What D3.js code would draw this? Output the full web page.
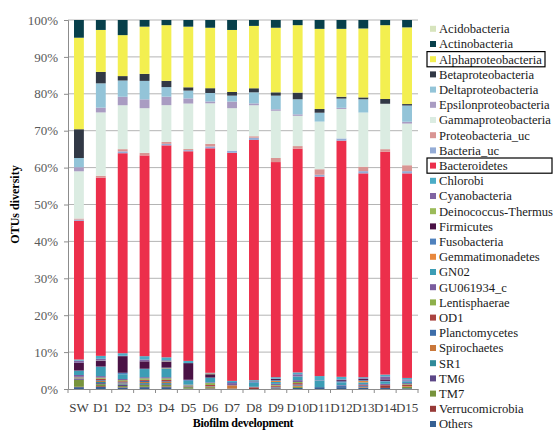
<!DOCTYPE html>
<html>
<head>
<meta charset="utf-8">
<script src="https://cdn.jsdelivr.net/npm/d3@7"></script>
<style>
    body { margin: 0; background: #fff; }
    text { font-family: "Liberation Serif", serif; }
</style>
</head>
<body>
<svg id="chart" width="554" height="430"></svg>
<script>
// samples along the x axis
const samples = ["SW", "D1", "D2", "D3", "D4", "D5", "D6", "D7", "D8", "D9", "D10", "D11", "D12", "D13", "D14", "D15"];

// legend order (top of legend = top of stack)
const taxa = ["Acidobacteria", "Actinobacteria", "Alphaproteobacteria", "Betaproteobacteria", "Deltaproteobacteria",
    "Epsilonproteobacteria", "Gammaproteobacteria", "Proteobacteria_uc", "Bacteria_uc", "Bacteroidetes", "Chlorobi",
    "Cyanobacteria", "Deinococcus-Thermus", "Firmicutes", "Fusobacteria", "Gemmatimonadetes", "GN02", "GU061934_c",
    "Lentisphaerae", "OD1", "Planctomycetes", "Spirochaetes", "SR1", "TM6", "TM7", "Verrucomicrobia", "Others"];

const taxaColors = ["#d7e4bd", "#073f4a", "#f3ef50", "#313845", "#93c4d8", "#a99cc2", "#dbece2", "#d99593", "#94acd6",
    "#ec2f4b", "#4bacc6", "#8064a2", "#9bbb59", "#4a1245", "#4f81bd", "#e8883d", "#3c9db5", "#7a5c9e", "#8eb04a",
    "#aa4340", "#3d6eaa", "#c9773a", "#2f8a9a", "#5c4787", "#77933c", "#973a37", "#366093"];

// relative abundance (%) per sample, SW..D15
const acidobacteria = [0, 0, 0, 0, 0, 0, 0, 0, 0, 0, 0, 0, 0, 0, 0, 0];
const actinobacteria = [4.8, 2.7, 4.1, 1.8, 1.4, 1.8, 2.1, 2.7, 1.6, 2.1, 1.4, 2.4, 2.4, 2.3, 1.4, 2.0];
const alphaproteobacteria = [24.8, 11.4, 11.1, 12.8, 15.1, 16.4, 16.4, 16.8, 16.9, 17.5, 18.3, 21.7, 18.4, 18.7, 20.0, 20.8];
const betaproteobacteria = [7.8, 3.1, 1.2, 1.9, 1.7, 0.9, 1.3, 1.0, 1.1, 0.9, 1.8, 1.0, 0.5, 0.5, 1.3, 0.4];
const deltaproteobacteria = [2.5, 6.6, 4.4, 5.0, 2.6, 2.1, 2.3, 1.6, 3.0, 3.7, 4.1, 2.4, 2.5, 3.6, 0, 4.4];
const epsilonproteobacteria = [1.1, 1.3, 2.3, 2.4, 2.3, 1.4, 0.5, 1.8, 0.5, 0.4, 0.4, 0, 0.3, 0, 0, 0.5];
const gammaproteobacteria = [12.8, 17.2, 11.9, 12.1, 10.0, 12.3, 11.0, 11.5, 8.4, 12.8, 8.2, 12.9, 8.0, 14.7, 12.3, 11.3];
const proteobacteriaUc = [0.3, 0.5, 0.6, 0.7, 0.5, 0.3, 0.7, 0, 0.4, 1.1, 0.7, 1.5, 0, 1.2, 0.7, 1.6];
const bacteriaUc = [0.3, 0, 0.5, 0, 0.4, 0.3, 0.5, 0.6, 0.6, 0, 0, 0.5, 0.6, 0.6, 0, 0.6];
const bacteroidetes = [37.6, 48.4, 54.2, 54.4, 57.5, 56.7, 60.9, 61.8, 65.1, 58.3, 60.7, 54.0, 64.0, 55.3, 60.4, 55.5];
const chlorobi = [0.3, 0.8, 0.7, 0.9, 0.8, 0.6, 0.1, 0.3, 0.3, 0.4, 0.5, 1.1, 0.7, 0.3, 0.5, 0.4];
const cyanobacteria = [0.6, 0.5, 0.1, 0.5, 0.3, 0, 0.1, 0, 0, 0.1, 0.6, 0.1, 0.2, 0.2, 0.8, 0.3];
const deinococcus = [0, 0.1, 0, 0, 0.1, 0, 0.2, 0, 0, 0, 0, 0, 0, 0, 0, 0];
const firmicutes = [2.1, 1.5, 4.5, 2.0, 1.6, 4.5, 0.9, 0, 0.1, 0.3, 0, 0, 0.3, 0.3, 0.4, 0];
const fusobacteria = [0.1, 0.1, 0.4, 0.1, 0.1, 0.3, 0, 0.3, 0.3, 0.2, 0, 0, 0.3, 0.2, 0.2, 0.3];
const gemmatimonadetes = [0, 0, 0, 0, 0.1, 0, 0, 0, 0, 0.3, 0, 0, 0, 0.4, 0, 0];
const gn02 = [1.1, 2.5, 1.3, 2.2, 2.4, 1.0, 1.3, 0, 1.1, 0.5, 1.0, 1.8, 0.8, 0.5, 0.6, 0.4];
const gu061934 = [0.5, 0.4, 0.3, 0.3, 0.3, 0.2, 0.2, 0.6, 0, 0.3, 0.5, 0, 0.2, 0.2, 0.3, 0.3];
const lentisphaerae = [0.1, 0.3, 0.3, 0.4, 0.4, 0.2, 0.5, 0, 0, 0.2, 0.3, 0, 0, 0, 0, 0.2];
const od1 = [0.1, 0.4, 0.3, 0.3, 0.4, 0.1, 0.3, 0, 0.2, 0.3, 0.4, 0, 0, 0.2, 0.2, 0.3];
const planctomycetes = [0.1, 0.2, 0.3, 0.3, 0.2, 0.1, 0.1, 0, 0, 0.2, 0.3, 0, 0.3, 0.3, 0, 0];
const spirochaetes = [0.1, 0.3, 0.2, 0.3, 0.3, 0, 0.2, 0.9, 0, 0.2, 0.3, 0, 0, 0.2, 0, 0.2];
const sr1 = [0.1, 0.3, 0.2, 0.3, 0.3, 0, 0, 0, 0, 0, 0, 0, 0, 0, 0, 0];
const tm6 = [0.3, 0.3, 0.3, 0.2, 0.2, 0.1, 0, 0, 0.1, 0, 0, 0, 0, 0, 0, 0];
const tm7 = [1.9, 0.5, 0.3, 0.5, 0.4, 0.4, 0.3, 0, 0, 0, 0.3, 0, 0, 0, 0, 0.4];
const verrucomicrobia = [0.1, 0.2, 0.1, 0.1, 0.2, 0, 0.1, 0, 0.3, 0, 0, 0, 0, 0, 0.6, 0];
const others = [0.5, 0.6, 0.4, 0.5, 0.5, 0.1, 0.1, 0.1, 0, 0.2, 0.3, 0.5, 0.5, 0.4, 0.3, 0.2];

// same order as taxa
const seriesValues = [acidobacteria, actinobacteria, alphaproteobacteria, betaproteobacteria, deltaproteobacteria,
    epsilonproteobacteria, gammaproteobacteria, proteobacteriaUc, bacteriaUc, bacteroidetes, chlorobi, cyanobacteria,
    deinococcus, firmicutes, fusobacteria, gemmatimonadetes, gn02, gu061934, lentisphaerae, od1, planctomycetes,
    spirochaetes, sr1, tm6, tm7, verrucomicrobia, others];

const yTicks = [0, 0.1, 0.2, 0.3, 0.4, 0.5, 0.6, 0.7, 0.8, 0.9, 1.0];

// legend entries that carry a frame in the original
const framed = ["Alphaproteobacteria", "Bacteroidetes"];
const frameWidths = [118, 125];

// build one row per sample for d3.stack
let table = samples.map((s, i) => {
    let row = { sample: s };
    taxa.forEach((t, j) => { row[t] = seriesValues[j][i]; });
    return row;
});

let svg = d3.select("#chart");

let plotLeft = 68, plotRight = 418, plotTop = 20, plotBottom = 389;

let x = d3.scaleBand()
    .domain(samples)
    .range([plotLeft, plotRight])
    .paddingInner(0.55)
    .paddingOuter(0.275);

let y = d3.scaleLinear()
    .domain([0, 1])
    .range([plotBottom, plotTop]);

let color = d3.scaleOrdinal().domain(taxa).range(taxaColors);

// bottom of the stack = last legend entry
let stackKeys = taxa.slice().reverse();
let stacked = d3.stack()
    .keys(stackKeys)
    .offset(d3.stackOffsetExpand)(table);

// gridlines
svg.append("g")
    .selectAll("line")
    .data(yTicks.slice(1))
    .join("line")
    .attr("x1", plotLeft)
    .attr("x2", plotRight)
    .attr("y1", d => y(d))
    .attr("y2", d => y(d))
    .attr("stroke", "#b4b4b4")
    .attr("stroke-width", 1);

// bars
svg.append("g")
    .selectAll("g")
    .data(stacked)
    .join("g")
    .attr("fill", d => color(d.key))
    .selectAll("rect")
    .data(d => d)
    .join("rect")
    .attr("x", d => x(d.data.sample))
    .attr("width", x.bandwidth())
    .attr("y", d => y(d[1]))
    .attr("height", d => Math.max(0, y(d[0]) - y(d[1])));

// y axis
let yAxis = svg.append("g")
    .attr("transform", `translate(${plotLeft},0)`)
    .call(d3.axisLeft(y).tickValues(yTicks).tickFormat(d3.format(".0%")).tickSize(4).tickPadding(6));
yAxis.select(".domain").attr("stroke", "#8c8c8c");
yAxis.selectAll(".tick line").attr("stroke", "#8c8c8c");
yAxis.selectAll(".tick text")
    .attr("fill", "#595959")
    .style("font-size", "13px")
    .style("font-family", "Liberation Serif, serif");

// x axis: ticks on band boundaries
let xAxis = svg.append("g")
    .attr("transform", `translate(0,${plotBottom})`)
    .call(d3.axisBottom(x).tickSize(0).tickPadding(14));
xAxis.select(".domain").attr("stroke", "#8c8c8c");
xAxis.selectAll(".tick text")
    .attr("fill", "#404040")
    .style("font-size", "13px")
    .style("font-family", "Liberation Serif, serif");
xAxis.selectAll(".sep")
    .data(samples.concat([null]))
    .join("line")
    .attr("class", "sep")
    .attr("x1", (d, i) => plotLeft + i * x.step())
    .attr("x2", (d, i) => plotLeft + i * x.step())
    .attr("y1", 0)
    .attr("y2", 4)
    .attr("stroke", "#8c8c8c");

// axis titles
svg.append("text")
    .attr("transform", `translate(19,${(plotTop + plotBottom) / 2}) rotate(-90)`)
    .attr("text-anchor", "middle")
    .style("font-size", "12px")
    .style("font-weight", "bold")
    .text("OTUs diversity");

svg.append("text")
    .attr("x", (plotLeft + plotRight) / 2)
    .attr("y", 427)
    .attr("text-anchor", "middle")
    .style("font-size", "12px")
    .style("font-weight", "bold")
    .style("letter-spacing", "-0.3px")
    .text("Biofilm development");

// legend
let ly = d3.scaleBand()
    .domain(taxa)
    .range([21.2, 431.6]);

let legend = svg.append("g")
    .selectAll("g")
    .data(taxa)
    .join("g")
    .attr("transform", d => `translate(430,${ly(d) + ly.bandwidth() / 2})`);

legend.append("rect")
    .attr("x", 0)
    .attr("y", -3)
    .attr("width", 6)
    .attr("height", 6)
    .attr("fill", d => color(d));

legend.append("text")
    .attr("x", 9)
    .attr("dy", "0.35em")
    .attr("fill", "#1a1a1a")
    .style("font-size", "12.6px")
    .text(d => d);

svg.append("g")
    .selectAll("rect")
    .data(framed)
    .join("rect")
    .attr("x", 427)
    .attr("y", d => ly(d))
    .attr("width", (d, i) => frameWidths[i])
    .attr("height", ly.bandwidth())
    .attr("fill", "none")
    .attr("stroke", "#000")
    .attr("stroke-width", 1.2);
</script>
</body>
</html>
